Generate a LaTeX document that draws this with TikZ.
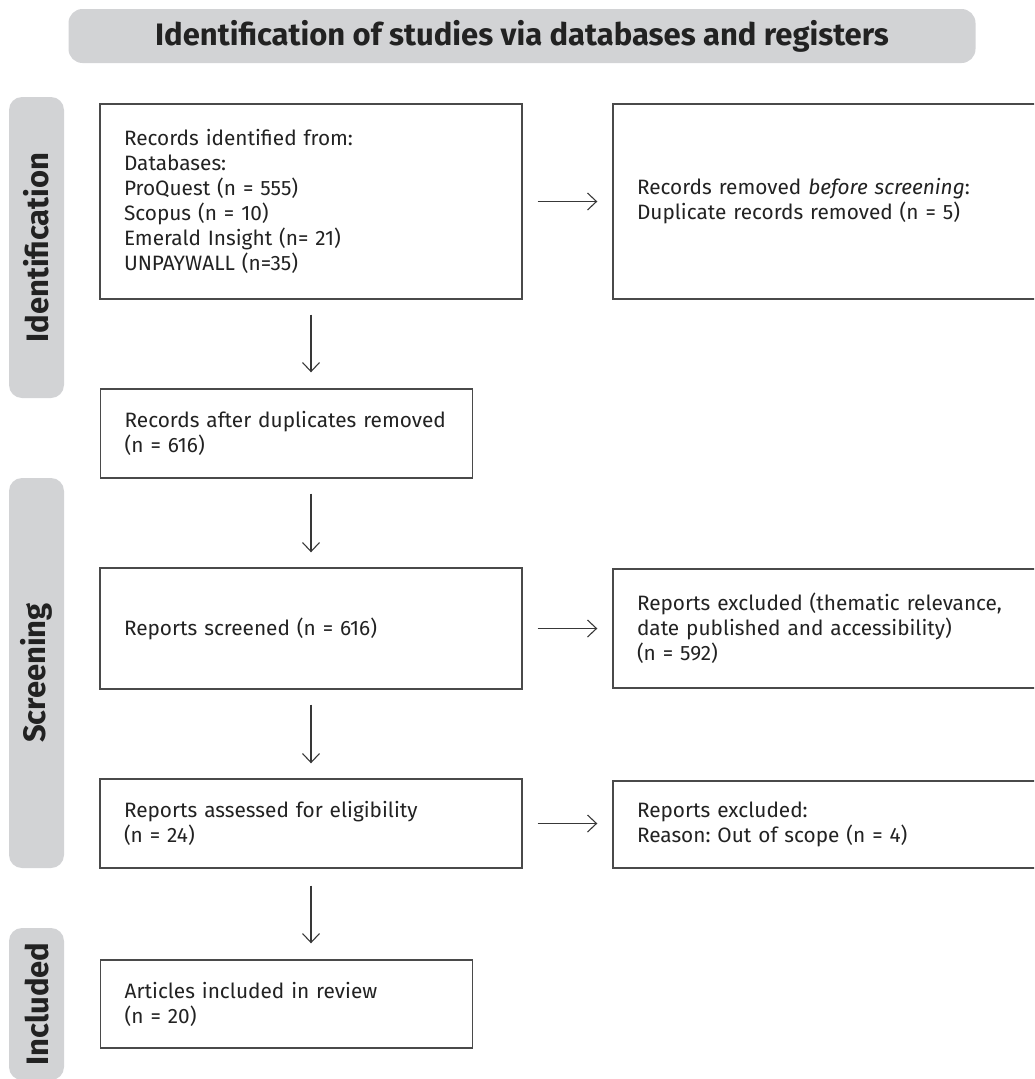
\documentclass[tikz,border=0pt]{standalone}
\usepackage{fontspec}
\setmainfont{Fira Sans}
\frenchspacing
\usetikzlibrary{arrows.meta}
\definecolor{bargray}{HTML}{D2D3D5}
\definecolor{ink}{HTML}{222222}
\definecolor{edge}{HTML}{4A4A4A}
\tikzset{
  box/.style={draw=edge, line width=1.4pt, fill=white, text=ink, align=left,
    inner xsep=24pt, inner ysep=0pt, font=\fontsize{20.8}{25}\selectfont\frenchspacing},
  lbox/.style={box, text width=374pt},
  sbox/.style={box, text width=324pt},
  rbox/.style={box, text width=384pt},
  phase/.style={fill=bargray, rounded corners=13pt, text=ink, rotate=90,
    minimum height=55pt, inner sep=0pt, font=\fontsize{31}{31}\selectfont\bfseries},
  flow/.style={draw=ink!90, line width=1.2pt, -{Straight Barb[length=9pt,width=17pt,line width=1.1pt]}}
}
\begin{document}
\begin{tikzpicture}[x=1pt,y=-1pt]
\useasboundingbox (0,0) rectangle (1034,1079);
\clip (0,0) rectangle (1034,1079);
% header
\node[fill=bargray, rounded corners=14pt, minimum width=907pt, minimum height=54pt, inner sep=0pt,
  text=ink, font=\fontsize{31}{31}\selectfont\bfseries] (head) at (522,36)
  {Identification of studies via databases and registers};
% phase bars
\node[phase, minimum width=301pt] (pid) at (36.5,247.5) {Identification};
\node[phase, minimum width=390pt] (psc) at (36.5,673) {Screening};
\node[phase, minimum width=152pt] (pin) at (36.5,1004) {Included};
% left boxes
\node[lbox, minimum height=195pt] (b1) at (311,201.5) {Records identified from:\\Databases:\\ProQuest (n = 555)\\Scopus (n = 10)\\Emerald Insight (n= 21)\\UNPAYWALL (n=35)};
\node[sbox, minimum height=89pt, anchor=west] (b2) at (100,433.5) {Records after duplicates removed\\(n = 616)};
\node[lbox, minimum height=121pt] (b3) at (311,628.5) {Reports screened (n = 616)};
\node[lbox, minimum height=89pt] (b4) at (311,823.5) {Reports assessed for eligibility\\(n = 24)};
\node[sbox, minimum height=88pt, anchor=west] (b5) at (100,1004) {Articles included in review\\(n = 20)};
% right boxes
\node[rbox, minimum height=195pt] (r1) at (829,201.5) {Records removed \textit{before screening}:\\Duplicate records removed (n = 5)};
\node[rbox, minimum height=119pt] (r2) at (829,628.5) {Reports excluded (thematic relevance,\\date published and accessibility)\\(n = 592)};
\node[rbox, minimum height=87pt] (r3) at (829,824.5) {Reports excluded:\\Reason: Out of scope (n = 4)};
% arrows
\draw[flow, shorten <=15pt, shorten >=16pt] (b1.south) -- (b1.south |- b2.north);
\draw[flow, shorten <=15pt, shorten >=15pt] (b1.south |- b2.south) -- (b3.north);
\draw[flow, shorten <=15pt, shorten >=15pt] (b3.south) -- (b4.north);
\draw[flow, shorten <=17pt, shorten >=16pt] (b4.south) -- (b4.south |- b5.north);
\draw[flow, shorten <=15pt, shorten >=15pt] (b1.east) -- (r1.west);
\draw[flow, shorten <=15pt, shorten >=15pt] (b3.east) -- (r2.west);
\draw[flow, shorten <=15pt, shorten >=15pt] (b4.east) -- (b4.east -| r3.west);
\end{tikzpicture}
\end{document}
